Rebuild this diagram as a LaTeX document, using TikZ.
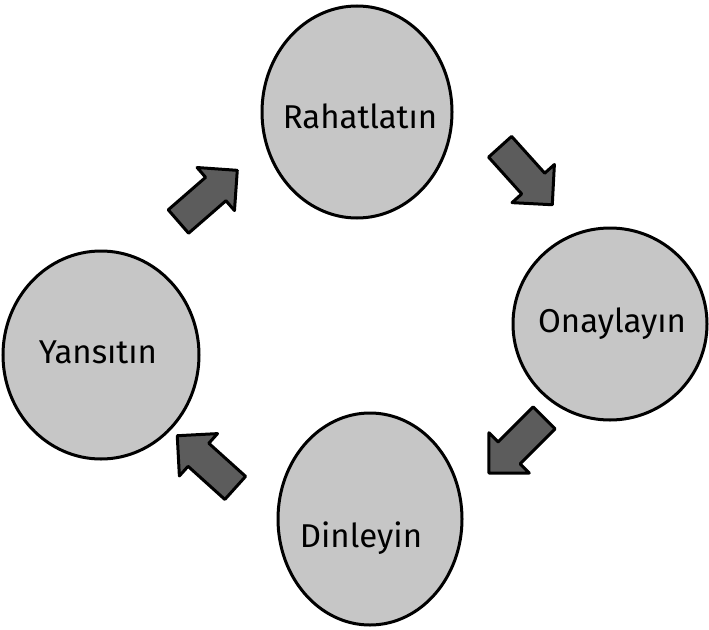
\documentclass[tikz,border=0pt]{standalone}
\usepackage{fontspec}
\setmainfont{Fira Sans}
\usetikzlibrary{shapes.geometric,shapes.arrows}
\definecolor{bubblegray}{HTML}{C6C6C6}
\definecolor{arrowgray}{HTML}{5C5C5C}
\tikzstyle{stage} = [draw=black, fill=bubblegray, line width=3pt, ellipse, inner sep=0pt]
\tikzstyle{stagename} = [inner sep=0pt, font=\fontsize{33}{40}\selectfont]
\tikzstyle{flowarrow} = [draw=black, fill=arrowgray, line width=3pt, single arrow, line join=round, minimum height=78pt, single arrow head extend=13pt, single arrow head indent=0pt, inner sep=14pt]

\begin{document}
\begin{tikzpicture}[x=1pt, y=1pt]
\useasboundingbox (0,0) rectangle (709,-629);
\node [stage, minimum width=190pt, minimum height=212pt] (relax) at (357,-112) {};
\node [stage, minimum width=194pt, minimum height=192pt] (confirm) at (610,-324) {};
\node [stage, minimum width=184pt, minimum height=212pt] (listen) at (370,-519) {};
\node [stage, minimum width=196pt, minimum height=208pt] (reflect) at (101,-355) {};
\node [stagename] (relaxtext) at ([xshift=3pt,yshift=-4pt]relax) {Rahatlatın};
\node [stagename] (confirmtext) at ([xshift=2pt]confirm) {Onaylayın};
\node [stagename] (listentext) at ([xshift=-9pt,yshift=-19pt]listen) {Dinleyin};
\node [stagename] (reflecttext) at ([xshift=-3pt,yshift=3pt]reflect) {Yansıtın};
% arrows between the stages
\node [flowarrow, rotate=41] (a1) at (202,-201) {};
\node [flowarrow, rotate=-48] (a2) at (521,-170) {};
\node [flowarrow, rotate=-135] (a3) at (522,-440) {};
\node [flowarrow, rotate=138] (a4) at (212,-467) {};
\end{tikzpicture}
\end{document}
